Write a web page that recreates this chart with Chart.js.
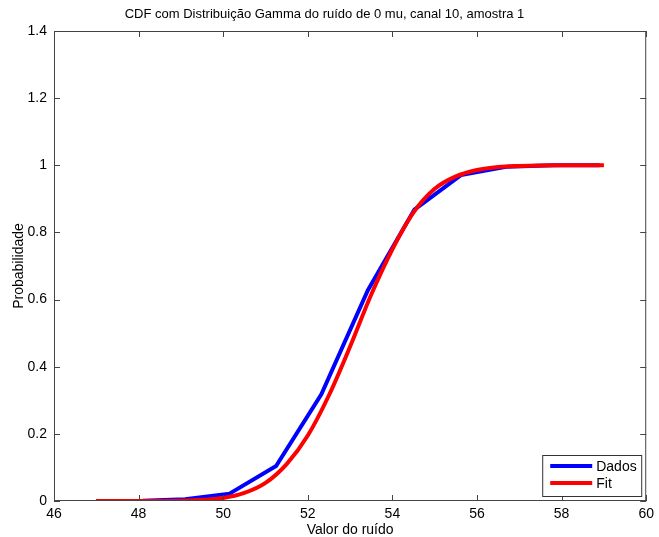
<!DOCTYPE html>
<html>
<head>
<meta charset="utf-8">
<script src="https://cdn.jsdelivr.net/npm/chart.js@4/dist/chart.umd.min.js"></script>
<style>
  html, body { margin: 0; padding: 0; background: #fff; }
  #wrap { width: 659px; height: 537px; }
</style>
</head>
<body>
<div id="wrap"><canvas id="cdf" width="659" height="537"></canvas></div>
<script>
// empirical CDF ("Dados")
var dadosX = [47.0, 48.1, 49.1, 50.15, 51.25, 52.32, 53.42, 54.52, 55.62, 56.72, 57.8, 58.9];
var dadosY = [0, 0.001, 0.005, 0.022, 0.104, 0.318, 0.628, 0.868, 0.971, 0.996, 1.0, 1.0];

// gamma fit ("Fit")
var fitX = [47, 48, 49, 50, 50.5, 51, 51.5, 52, 52.5, 53, 53.5, 54, 54.5, 55, 55.5, 56, 56.5, 57, 58, 59];
var fitY = [0, 0.0002, 0.001, 0.009, 0.024, 0.054, 0.11, 0.195, 0.315, 0.46, 0.615, 0.75, 0.86, 0.93, 0.967, 0.986, 0.995, 0.998, 1.0, 1.0];

var xTicks = [46, 48, 50, 52, 54, 56, 58, 60];
var yTicks = [0, 0.2, 0.4, 0.6, 0.8, 1, 1.2, 1.4];

var FONT = "'Liberation Sans', Arial, sans-serif";

function pts(xs, ys) {
    return xs.map(function (x, i) { return {x: x, y: ys[i]}; });
}

// MATLAB-like box with inward ticks plus legend inside the axes
var boxPlugin = {
    id: 'matlabBox',
    afterDatasetsDraw: function (chart) {
        var ctx = chart.ctx, a = chart.chartArea;
        var xs = chart.scales.x, ys = chart.scales.y;
        ctx.save();
        ctx.strokeStyle = '#444';
        ctx.lineWidth = 1;
        ctx.strokeRect(a.left + 0.5, a.top + 0.5, a.right - a.left - 1, a.bottom - a.top - 1);
        var tl = 6;
        ctx.beginPath();
        xTicks.forEach(function (v) {
            var p = Math.round(xs.getPixelForValue(v)) + 0.5;
            ctx.moveTo(p, a.bottom); ctx.lineTo(p, a.bottom - tl);
            ctx.moveTo(p, a.top); ctx.lineTo(p, a.top + tl);
        });
        yTicks.forEach(function (v) {
            var p = Math.round(ys.getPixelForValue(v)) + 0.5;
            ctx.moveTo(a.left, p); ctx.lineTo(a.left + tl, p);
            ctx.moveTo(a.right, p); ctx.lineTo(a.right - tl, p);
        });
        ctx.stroke();

        // legend
        var lw = 99, lh = 41;
        var lx = a.right - 104, ly = a.bottom - 46;
        ctx.fillStyle = '#fff';
        ctx.fillRect(lx, ly, lw, lh);
        ctx.strokeStyle = '#333';
        ctx.strokeRect(lx + 0.5, ly + 0.5, lw, lh);
        var items = chart.data.datasets.slice().sort(function (p, q) { return q.order - p.order; });
        ctx.font = '14px ' + FONT;
        ctx.textBaseline = 'middle';
        items.forEach(function (ds, i) {
            var yy = ly + 11 + i * 17;
            ctx.strokeStyle = ds.borderColor;
            ctx.lineWidth = 4;
            ctx.beginPath();
            ctx.moveTo(lx + 8, yy); ctx.lineTo(lx + 50, yy);
            ctx.stroke();
            ctx.fillStyle = '#000';
            ctx.fillText(ds.label, lx + 54, yy + 1);
        });
        ctx.restore();
    }
};

var ctx = document.getElementById('cdf').getContext('2d');
var myChart = new Chart(ctx, {
    type: 'scatter',
    data: {
        datasets: [
            {
                label: 'Dados',
                data: pts(dadosX, dadosY),
                borderColor: 'rgb(0, 0, 255)',
                borderWidth: 4,
                showLine: true,
                pointRadius: 0,
                clip: 0,
                order: 1
            },
            {
                label: 'Fit',
                data: pts(fitX, fitY),
                borderColor: 'rgb(255, 0, 0)',
                borderWidth: 4,
                showLine: true,
                cubicInterpolationMode: 'monotone',
                pointRadius: 0,
                clip: 0,
                order: 0
            }
        ]
    },
    plugins: [boxPlugin],
    options: {
        responsive: false,
        animation: false,
        layout: { padding: { left: 0, right: 10, top: 0, bottom: 0 } },
        plugins: {
            legend: { display: false },
            tooltip: { enabled: false },
            title: {
                display: true,
                text: 'CDF com Distribuição Gamma do ruído de 0 mu, canal 10, amostra 1',
                color: '#000',
                font: { family: FONT, size: 13, weight: 'normal' },
                padding: { top: 7, bottom: 8.4 }
            }
        },
        scales: {
            x: {
                type: 'linear',
                min: 46, max: 60,
                afterBuildTicks: function (s) { s.ticks = xTicks.map(function (v) { return {value: v}; }); },
                afterFit: function (s) { s.height = 36; },
                grid: { display: false, drawTicks: false },
                border: { display: false },
                ticks: { color: '#000', padding: 5, maxRotation: 0, font: { family: FONT, size: 14 } },
                title: {
                    display: true, text: 'Valor do ruído', color: '#000',
                    font: { family: FONT, size: 14 }, padding: { top: 0, bottom: -2 }
                }
            },
            y: {
                min: 0, max: 1.4,
                afterBuildTicks: function (s) { s.ticks = yTicks.map(function (v) { return {value: v}; }); },
                afterFit: function (s) { s.width = 54; },
                grid: { display: false, drawTicks: false },
                border: { display: false },
                ticks: {
                    color: '#000', padding: 7, font: { family: FONT, size: 14 },
                    callback: function (v) { return String(Math.round(v * 10) / 10); }
                },
                title: {
                    display: true, text: 'Probabilidade', color: '#000',
                    font: { family: FONT, size: 14 }, padding: { top: 11, bottom: 0 }
                }
            }
        }
    }
});
</script>
</body>
</html>
